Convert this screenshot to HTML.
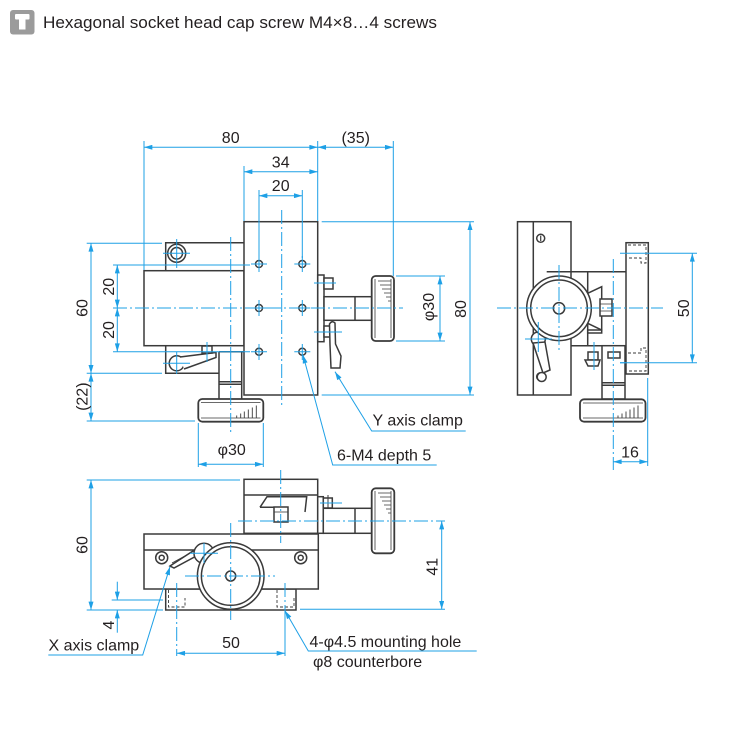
<!DOCTYPE html>
<html><head><meta charset="utf-8"><style>
html,body{margin:0;padding:0;background:#fff;}
svg{display:block;}
text{font-family:"Liberation Sans",Arial,sans-serif;fill:#231f20;}
</style></head><body>
<svg width="750" height="750" viewBox="0 0 750 750" xmlns="http://www.w3.org/2000/svg">
<defs>
<marker id="a" viewBox="0 0 10 6" refX="10" refY="3" markerWidth="9" markerHeight="5" markerUnits="userSpaceOnUse" orient="auto-start-reverse"><path d="M0,0L10,3L0,6z" fill="#1ea0e6"/></marker>
</defs>
<rect width="750" height="750" fill="#fff"/>

<!-- header -->
<rect x="10" y="10" width="24.5" height="24.5" rx="3" fill="#9b9b9b"/>
<rect x="15" y="14" width="14.5" height="5.5" rx="1" fill="#fff"/>
<rect x="19" y="19" width="6.5" height="10.5" fill="#fff"/>
<text x="43" y="28" font-size="17" textLength="394" lengthAdjust="spacingAndGlyphs">Hexagonal socket head cap screw M4×8…4 screws</text>

<!-- ================= FRONT VIEW PARTS ================= -->
<g stroke="#3a3a3a" stroke-width="1.5" fill="none">
  <rect x="144" y="270.7" width="100" height="75" fill="#fff"/>
  <path d="M244,242.7H165.7V270.7"/>
  <path d="M165.7,345.7V373.3H219"/>
  <path d="M219,351.7V399M241.7,351.7V399M219,351.7H244M219,381.7H241.7M219,384.3H241.7"/>
  <rect x="244" y="221.7" width="73.7" height="173.3" fill="#fff"/>
  <circle cx="176.7" cy="253.3" r="9"/>
  <circle cx="176.7" cy="253.3" r="5.8"/>
  <!-- holes -->
  <circle cx="259" cy="264" r="3.5"/><circle cx="302.3" cy="264" r="3.5"/>
  <circle cx="259" cy="308" r="3.5"/><circle cx="302.3" cy="308" r="3.5"/>
  <circle cx="259" cy="351.7" r="3.5"/><circle cx="302.3" cy="351.7" r="3.5"/>
  <!-- bottom bracket clamp -->
  <circle cx="176.7" cy="363.3" r="7.5" fill="#fff"/>
  <path d="M180,357L216,352.5V357.5L184,369" fill="#fff"/>
  <rect x="202" y="346" width="10" height="7" fill="#fff"/>
  <!-- knob -->
  <rect x="198.3" y="399" width="65" height="22.7" rx="4" fill="#fff" stroke-width="1.8"/>
  <path d="M201,402.5H260.5M201,418H260.5" stroke-width="0.8"/>
  <path d="M236.7,418V415.5M240.7,418V413.5M244.3,418V411.5M248.3,418V409.5M252.3,418V407.5M256.3,418V405.5" stroke-width="0.9"/>
  <!-- right side plate and nuts -->
  <rect x="317.7" y="275" width="6.3" height="66.7"/>
  <rect x="324" y="278" width="9" height="11" fill="#fff"/>
  <rect x="324" y="326" width="8" height="11" fill="#fff"/>
  <!-- shaft -->
  <rect x="324" y="296.7" width="47.7" height="23.6" fill="#fff"/>
  <path d="M355,296.7V320.3"/>
  <!-- Y knob -->
  <rect x="371.7" y="276" width="22.3" height="65" rx="4" fill="#fff" stroke-width="1.8"/>
  <path d="M375,279V338M391,279V338" stroke-width="0.8"/>
  <path d="M378,281H391M380,285H391M382,289H391M384,293H391M386,297H391M388,301H391" stroke-width="0.8"/>
  <!-- Y clamp lever -->
  <path d="M329.5,324Q332,320 335,323L335.5,344L341,356L340,368H331L330,345Z" fill="#fff"/>
</g>

<!-- ================= RIGHT VIEW PARTS ================= -->
<g stroke="#3a3a3a" stroke-width="1.5" fill="none">
  <rect x="517.5" y="221.7" width="53.5" height="173.3" fill="#fff"/>
  <path d="M533.3,221.7V395"/>
  <circle cx="540.7" cy="238.3" r="4"/><path d="M540.7,235.6V241" stroke-width="1.2"/>
  <circle cx="540.7" cy="376.7" r="4"/><path d="M540.7,374V379.4" stroke-width="1.2"/>
  <path d="M546.7,271.7H626M587.7,271.7V345.7M571,345.7H626"/>
  <!-- dovetail -->
  <path d="M587.7,293.3L601.7,286.7V330L587.7,323.3" fill="#fff"/>
  <path d="M587.7,330H601.7V333H587.7Z"/>
  <!-- nut -->
  <rect x="600" y="299" width="12" height="17" fill="#fff"/>
  <path d="M600,304H612M600,311H612" stroke-width="0.8"/>
  <!-- right plate -->
  <rect x="626" y="242.7" width="22.3" height="131.3" fill="#fff"/>
  <path d="M628,245H646V263H641V258H628M628,353H641V348H646V371H628" stroke-width="0.9" stroke-dasharray="3 2"/>
  <!-- column -->
  <rect x="602" y="345.7" width="23" height="53.3" fill="#fff"/>
  <path d="M602,382.7H625M602,385.3H625"/>
  <rect x="608" y="352" width="12" height="6" fill="#fff"/>
  <rect x="588" y="352" width="10" height="8" fill="#fff"/>
  <path d="M585,360H600L598,366H588Z" fill="#fff"/>
  <!-- knob -->
  <rect x="580" y="399.3" width="65.5" height="22.4" rx="4" fill="#fff" stroke-width="1.8"/>
  <path d="M583,403H643M583,418H643" stroke-width="0.8"/>
  <path d="M618,418V415.5M622,418V413.5M626,418V411.5M630,418V409.5M634,418V407.5M638,418V405.5" stroke-width="0.9"/>
  <!-- lever -->
  <circle cx="538.3" cy="339" r="7" fill="#fff"/>
  <path d="M533,343L545,342L550,370L543,373Z" fill="#fff"/>
  <circle cx="541.7" cy="377" r="4.5" fill="#fff"/>
  <!-- big circle -->
  <circle cx="559" cy="308.3" r="32.3" fill="#fff"/>
  <circle cx="559" cy="308.3" r="28.3"/>
  <circle cx="559" cy="308.3" r="5.7"/>
</g>

<!-- ================= BOTTOM VIEW PARTS ================= -->
<g stroke="#3a3a3a" stroke-width="1.5" fill="none">
  <rect x="244" y="479.3" width="73.7" height="54" fill="#fff"/>
  <path d="M244,495H317.7"/>
  <path d="M260,507.3L267,496.7H306.7L305,512M260,507.3H276" fill="#fff"/>
  <rect x="274" y="507" width="14" height="15" fill="#fff"/>
  <path d="M274,512H288" stroke-width="0.8"/>
  <rect x="317.7" y="496.7" width="5.6" height="36.6" fill="#fff"/>
  <rect x="323.3" y="498" width="9" height="10" fill="#fff"/>
  <path d="M328,495V511" stroke-width="1"/>
  <rect x="323.3" y="515" width="8" height="11" fill="#fff"/>
  <rect x="323.3" y="508.3" width="48.4" height="25" fill="#fff"/>
  <path d="M355,508.3V533.3"/>
  <rect x="371.7" y="488.3" width="22.6" height="65" rx="4" fill="#fff" stroke-width="1.8"/>
  <path d="M375,491V550M391,491V550" stroke-width="0.8"/>
  <path d="M378,493H391M380,497H391M382,501H391M384,505H391M386,509H391M388,513H391" stroke-width="0.8"/>
  <!-- base feet -->
  <rect x="165.7" y="589" width="130.3" height="21" fill="#fff"/>
  <path d="M168.5,590V607H185V598M277,590V607H294V598" stroke-width="0.9" stroke-dasharray="3 2"/>
  <!-- lower block -->
  <rect x="144" y="534" width="174.3" height="55" fill="#fff"/>
  <path d="M144,550H318.3"/>
  <circle cx="161.7" cy="557.7" r="6"/><circle cx="161.7" cy="557.7" r="2.5"/>
  <circle cx="300.7" cy="557.7" r="6"/><circle cx="300.7" cy="557.7" r="2.5"/>
  <path d="M170,566L196,549L200,554L174,568Z" fill="#fff"/>
  <path d="M172,563L194,551" stroke-width="0.8"/>
  <circle cx="204" cy="553.3" r="10" fill="#fff"/>
  <circle cx="230.7" cy="576" r="33.3" fill="#fff"/>
  <circle cx="230.7" cy="576" r="29.3"/>
  <circle cx="230.7" cy="576" r="5"/>
</g>

<!-- ================= BLUE LINES ================= -->
<g stroke="#1ea0e6" stroke-width="1" fill="none">
  <g stroke-dasharray="14 3 2 3">
    <path d="M113,308H403"/>
    <path d="M281.7,210V405"/>
    <path d="M230.7,237V433"/>
    <path d="M497,308H663"/>
    <path d="M559,265V353"/>
    <path d="M613.3,259V470"/>
    <path d="M238,521H445"/>
    <path d="M280.7,470V543"/>
    <path d="M230.7,523V620"/>
    <path d="M185,576H275"/>
    <path d="M176.7,583V656M285,583V612"/>
  </g>
  <path d="M251,264H267M294.3,264H310.3M251,308H267M294.3,308H310.3M251,351.7H267M294.3,351.7H310.3"/>
  <path d="M259,256V272M302.3,256V272M259,300V316M302.3,300V316M259,344V360M302.3,344V360"/>
  <path d="M163,253.3H190M176.7,239V268"/>
  <path d="M163,363.3H190M176.7,352V374M207,342V362"/>
  <path d="M314,283H336M314,332H342"/>
  <path d="M525,339H552M538.3,322V352M594,342V370M620,362.7H626"/>
  <path d="M190,553.3H218M204,543V563"/>
  <path d="M320,503H342"/>

  <path d="M144,141V270M317.7,141V221M393.3,141V276M244,166V221M259,190V258M302.3,190V258"/>
  <line x1="144" y1="147.3" x2="317.7" y2="147.3" marker-start="url(#a)" marker-end="url(#a)"/>
  <line x1="317.7" y1="147.3" x2="393.3" y2="147.3" marker-start="url(#a)" marker-end="url(#a)"/>
  <line x1="244" y1="171.7" x2="317.7" y2="171.7" marker-start="url(#a)" marker-end="url(#a)"/>
  <line x1="259" y1="195.7" x2="302.3" y2="195.7" marker-start="url(#a)" marker-end="url(#a)"/>

  <path d="M86.7,243.3H162M86.7,373.3H162M86.7,421H195M113,265H250M113,351.7H250"/>
  <line x1="91" y1="243.3" x2="91" y2="373.3" marker-start="url(#a)" marker-end="url(#a)"/>
  <line x1="91" y1="373.3" x2="91" y2="421" marker-start="url(#a)" marker-end="url(#a)"/>
  <line x1="117.3" y1="265" x2="117.3" y2="308" marker-start="url(#a)" marker-end="url(#a)"/>
  <line x1="117.3" y1="308" x2="117.3" y2="351.7" marker-start="url(#a)" marker-end="url(#a)"/>

  <path d="M321.7,221.7H474M321.7,395H474M396,276H445M396,341H445"/>
  <line x1="470" y1="221.7" x2="470" y2="395" marker-start="url(#a)" marker-end="url(#a)"/>
  <line x1="440" y1="276" x2="440" y2="341" marker-start="url(#a)" marker-end="url(#a)"/>

  <path d="M198.3,423V467M263.3,423V467"/>
  <line x1="198.3" y1="464.3" x2="263.3" y2="464.3" marker-start="url(#a)" marker-end="url(#a)"/>

  <polyline points="335,371.7 371.7,431 465.7,431" marker-start="url(#a)"/>
  <polyline points="303,355 332.7,465 436.7,465" marker-start="url(#a)"/>

  <path d="M620,253.3H697M620,362.7H697M647.7,378V466"/>
  <line x1="692.3" y1="253.3" x2="692.3" y2="362.7" marker-start="url(#a)" marker-end="url(#a)"/>
  <line x1="613.3" y1="461.7" x2="647.7" y2="461.7" marker-start="url(#a)" marker-end="url(#a)"/>

  <path d="M86.7,480H240M86.7,610H163M111.7,600H163M300,609.3H445M285,612V656"/>
  <line x1="91" y1="480" x2="91" y2="610" marker-start="url(#a)" marker-end="url(#a)"/>
  <line x1="117.3" y1="581.7" x2="117.3" y2="600" marker-end="url(#a)"/>
  <line x1="117.3" y1="632.7" x2="117.3" y2="610" marker-end="url(#a)"/>
  <line x1="441.7" y1="521" x2="441.7" y2="609.3" marker-start="url(#a)" marker-end="url(#a)"/>
  <line x1="176.7" y1="653.3" x2="285" y2="653.3" marker-start="url(#a)" marker-end="url(#a)"/>
  <polyline points="170,566.7 142.7,655 48.3,655" marker-start="url(#a)"/>
  <polyline points="285,610.7 308.3,651 476.7,651" marker-start="url(#a)"/>
</g>

<!-- ================= TEXT ================= -->
<g font-size="16">
  <text x="230.7" y="143" text-anchor="middle">80</text>
  <text x="355.7" y="143" text-anchor="middle">(35)</text>
  <text x="280.7" y="167.5" text-anchor="middle">34</text>
  <text x="280.7" y="191" text-anchor="middle">20</text>
  <text transform="translate(87.5,308) rotate(-90)" text-anchor="middle">60</text>
  <text transform="translate(87.5,396.7) rotate(-90)" text-anchor="middle">(22)</text>
  <text transform="translate(114,286.7) rotate(-90)" text-anchor="middle">20</text>
  <text transform="translate(114,330) rotate(-90)" text-anchor="middle">20</text>
  <text transform="translate(466,309) rotate(-90)" text-anchor="middle">80</text>
  <text transform="translate(434,307) rotate(-90)" text-anchor="middle">φ30</text>
  <text x="231.7" y="455" text-anchor="middle">φ30</text>
  <text x="372.5" y="425.5">Y axis clamp</text>
  <text x="337" y="460.5">6-M4 depth 5</text>
  <text transform="translate(689,308.3) rotate(-90)" text-anchor="middle">50</text>
  <text x="630" y="457.5" text-anchor="middle">16</text>
  <text transform="translate(87.5,545) rotate(-90)" text-anchor="middle">60</text>
  <text transform="translate(114,625) rotate(-90)" text-anchor="middle">4</text>
  <text transform="translate(437.5,566.7) rotate(-90)" text-anchor="middle">41</text>
  <text x="231" y="648" text-anchor="middle">50</text>
  <text x="48.5" y="650.5">X axis clamp</text>
  <text x="309.5" y="647">4-φ4.5 mounting hole</text>
  <text x="313" y="667">φ8 counterbore</text>
</g>
</svg>
</body></html>
